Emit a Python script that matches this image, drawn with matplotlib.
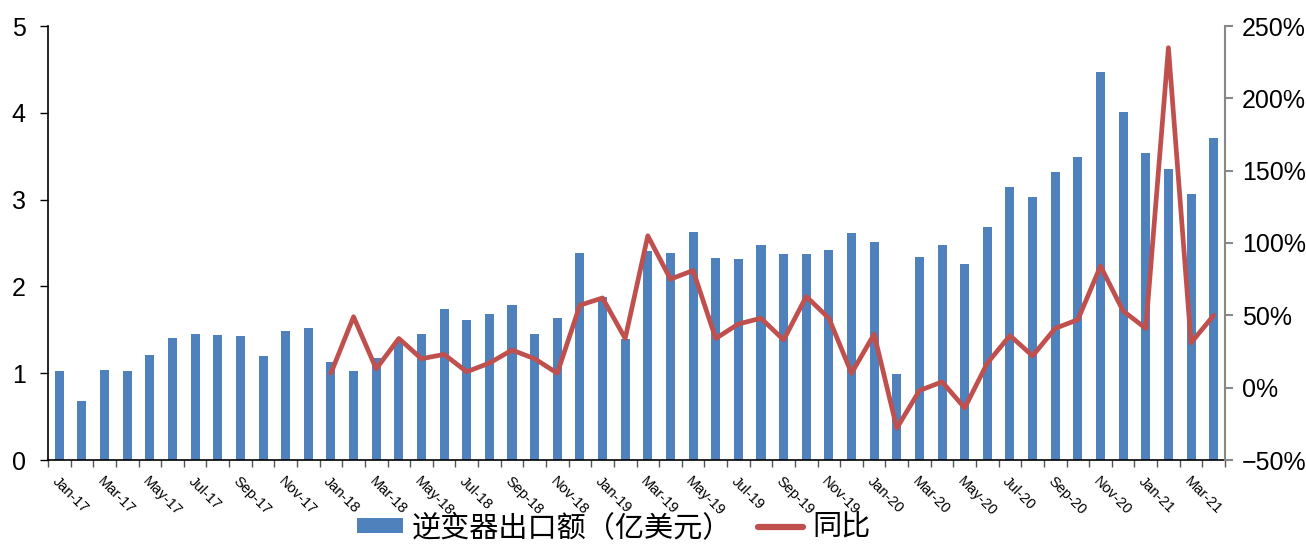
import matplotlib
matplotlib.use("Agg")
import matplotlib.pyplot as plt
from matplotlib.patches import Patch
from matplotlib.lines import Line2D
from matplotlib.ticker import FuncFormatter, MultipleLocator
import numpy as np

# 月份 Jan-17 .. Apr-21
months = []
for y in range(17, 22):
    for m in ["Jan", "Feb", "Mar", "Apr", "May", "Jun", "Jul", "Aug", "Sep", "Oct", "Nov", "Dec"]:
        months.append(f"{m}-{y}")
months = months[:52]

# 逆变器出口额（亿美元）
export_val = [1.02, 0.68, 1.04, 1.02, 1.21, 1.41, 1.45, 1.44, 1.43, 1.20, 1.49, 1.52,
              1.13, 1.03, 1.17, 1.36, 1.45, 1.74, 1.61, 1.68, 1.79, 1.45, 1.64, 2.39,
              1.88, 1.39, 2.41, 2.39, 2.63, 2.33, 2.31, 2.48, 2.37, 2.37, 2.42, 2.62,
              2.51, 0.99, 2.34, 2.48, 2.26, 2.68, 3.14, 3.03, 3.32, 3.49, 4.47, 4.01,
              3.54, 3.35, 3.06, 3.71]

# 同比（%），从 Jan-18 开始
yoy = [10, 49, 13, 34, 20, 23, 11, 17, 26, 20, 10, 57,
       62, 34, 105, 75, 81, 34, 44, 48, 33, 63, 48, 10,
       37, -28, -2, 4, -14, 17, 36, 22, 41, 47, 84, 53,
       41, 235, 31, 50]

bar_color = "#4F81BD"
line_color = "#C0504D"

x = np.arange(len(months))
x_yoy = x[12:]

fig = plt.figure(figsize=(13.06, 5.47), dpi=100)
ax = fig.add_axes([48 / 1306, 1 - 460 / 547, (1225 - 48) / 1306, (460 - 26) / 547])
ax2 = ax.twinx()

ax.bar(x, export_val, width=0.4, color=bar_color, zorder=2)
ax2.plot(x_yoy, yoy, color=line_color, linewidth=3.4, solid_capstyle="round",
         solid_joinstyle="round", zorder=3)

ax.set_xlim(-0.5, len(months) - 0.5)
ax.set_ylim(0, 5)
ax2.set_ylim(-50, 250)
ax.yaxis.set_major_locator(MultipleLocator(1))
ax2.yaxis.set_major_locator(MultipleLocator(50))
ax2.yaxis.set_major_formatter(FuncFormatter(lambda v, p: f"{int(v)}%".replace("-", "\u2212")))

# x 轴: 分隔刻度 + 隔月标签
ax.set_xticks(np.arange(-0.5, len(months), 1), minor=True)
ax.set_xticks(x[::2])
ax.set_xticklabels(months[::2], rotation=-45, ha="left", va="top",
                   rotation_mode="anchor", fontsize=10.5, family="Liberation Sans")
ax.tick_params(axis="x", which="major", length=0, pad=10)
ax.tick_params(axis="x", which="minor", length=5, width=1, color="#555555", direction="out")

ax.tick_params(axis="y", labelsize=18, length=6, width=1, direction="out", pad=10)
for lab in ax.get_yticklabels():
    lab.set_family("Liberation Sans")
ax2.tick_params(axis="y", labelsize=18, length=6, width=1.5, color="#888888", direction="out", pad=6)
for lab in ax2.get_yticklabels():
    lab.set_family("Liberation Sans")

for a in (ax, ax2):
    a.spines["top"].set_visible(False)
ax.spines["right"].set_visible(False)
ax2.spines["left"].set_visible(False)
ax2.spines["bottom"].set_visible(False)
ax2.spines["right"].set_color("#888888")
ax2.spines["right"].set_linewidth(1.5)
ax.spines["left"].set_linewidth(1.2)
ax.spines["bottom"].set_linewidth(1.2)

handles = [Patch(facecolor=bar_color, edgecolor="none"),
           Line2D([0], [0], color=line_color, linewidth=4.5, solid_capstyle="round")]
fig.legend(handles, ["逆变器出口额（亿美元）", "同比"], loc="center", bbox_to_anchor=(0.47, 0.035),
           ncol=2, frameon=False, handlelength=1.55, handleheight=0.45, handletextpad=0.3,
           columnspacing=0.9,
           prop={"family": ["Noto Sans CJK SC", "DejaVu Sans"], "size": 21})

fig.savefig("out.png", dpi=100)
